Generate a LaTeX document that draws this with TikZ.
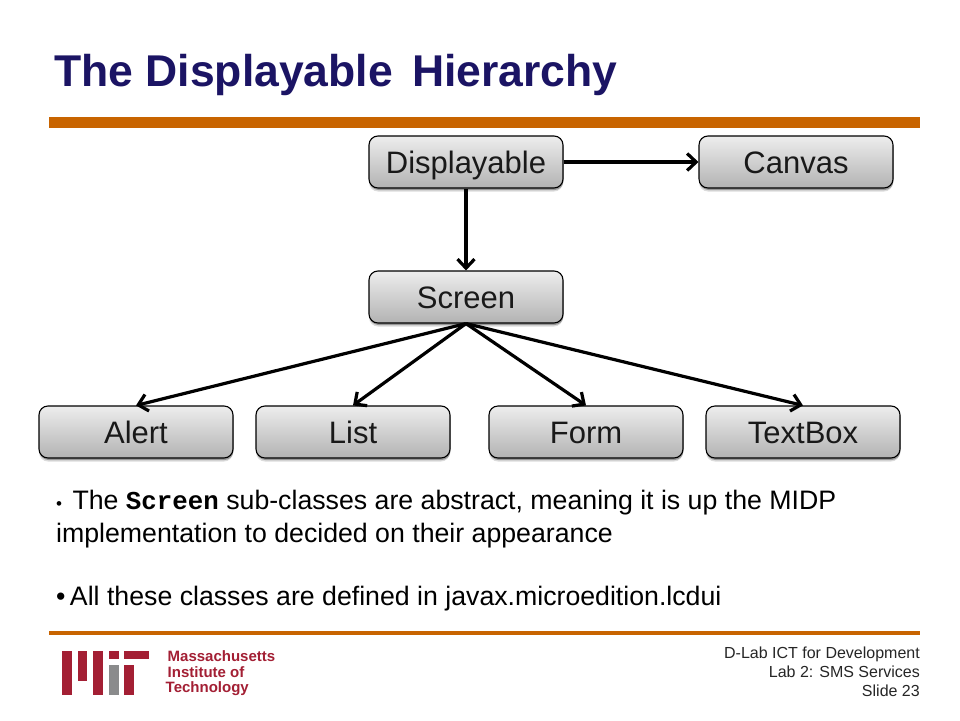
\documentclass[tikz,border=0pt]{standalone}
\usepackage{fontspec}
\setmainfont{Liberation Sans}
\newfontfamily\monob{Liberation Mono}
\usetikzlibrary{shadows,arrows.meta}
\definecolor{titleblue}{HTML}{1B1464}
\definecolor{rulebrown}{HTML}{C86400}
\definecolor{mitred}{HTML}{A31F34}
\definecolor{mitgray}{HTML}{8A8B8C}
\tikzset{
  classbox/.style={draw=black,line width=1.1pt,rounded corners=9pt,minimum width=194pt,minimum height=52pt,
    top color=black!7,bottom color=black!30,inner sep=0pt,text height=22pt,text depth=0pt,
    font=\fontsize{31}{31}\selectfont,text=black!90,
    drop shadow={shadow xshift=0pt,shadow yshift=-3.5pt,opacity=0.14,fill=black},
    drop shadow={shadow xshift=0.5pt,shadow yshift=-2pt,opacity=0.3,fill=black}},
  link/.style={line width=3.2pt,black,-{Straight Barb[length=9pt,width=17pt,line width=3.2pt]}},
  bodytext/.style={anchor=base west,inner sep=0pt,font=\fontsize{26.7}{26.7}\selectfont,text=black},
  logotext/.style={anchor=base west,inner sep=0pt,text=mitred,font=\fontsize{15}{15}\selectfont\bfseries},
  foot/.style={anchor=base east,inner sep=0pt,font=\fontsize{16}{16}\selectfont,text=black!85},
}
\begin{document}
\begin{tikzpicture}[x=1pt,y=-1pt]
\useasboundingbox (0,0) rectangle (960,720);
\fill[white] (0,0) rectangle (960,720);
\node[anchor=base west,inner sep=0pt,text=titleblue,font=\fontsize{44.5}{44.5}\selectfont\bfseries] (title) at (54,86) {The Displayable\hspace{7pt} Hierarchy};
\fill[rulebrown] (49,117) rectangle (920,128);
\fill[rulebrown] (49,631) rectangle (920,635);
\node[classbox] (disp) at (466,162) {Displayable};
\node[classbox] (canvas) at (796,162) {Canvas};
\node[classbox] (screen) at (466,297) {Screen};
\node[classbox] (alert) at (136,432) {Alert};
\node[classbox] (list) at (353,432) {List};
\node[classbox] (form) at (586,432) {Form};
\node[classbox] (textbox) at (803,432) {TextBox};
\draw[link] (disp.east) -- (canvas.west);
\draw[link] (disp.south) -- (screen.north);
\draw[link] (screen.south) -- (alert.north);
\draw[link] (screen.south) -- (list.north);
\draw[link] (screen.south) -- (form.north);
\draw[link] (screen.south) -- (textbox.north);
\node[bodytext] (b1) at (56,509) {{\fontsize{17}{17}\selectfont•}\hspace{3pt} The {\fontsize{25.8}{25.8}\monob\bfseries Screen} sub-classes are abstract, meaning it is up the MIDP};
\node[bodytext] (b2) at (56,542) {implementation to decided on their appearance};
\node[bodytext] (b3) at (56,605) {•\hspace{-3pt} All these classes are defined in javax.microedition.lcdui};
% logo
\fill[mitred] (62.3,650.7) rectangle (72.3,695);
\fill[mitred] (77.7,650.7) rectangle (87.3,681);
\fill[mitred] (93.3,650.7) rectangle (103,695);
\fill[mitred] (108.7,650.7) rectangle (118.7,659.3);
\fill[mitgray] (108.7,664.7) rectangle (118.7,695);
\fill[mitred] (124,650.7) rectangle (149,659.3);
\fill[mitred] (124,664.7) rectangle (134,695);
\node[logotext] (l1) at (167.5,661) {Massachusetts};
\node[logotext] (l2) at (167.5,677) {Institute of};
\node[logotext] (l3) at (165.5,692) {Technology};
\node[foot] (f1) at (920,658) {D-Lab ICT for Development};
\node[foot] (f2) at (920,677) {Lab 2: SMS Services};
\node[foot] (f3) at (920,696) {Slide 23};
\end{tikzpicture}
\end{document}
